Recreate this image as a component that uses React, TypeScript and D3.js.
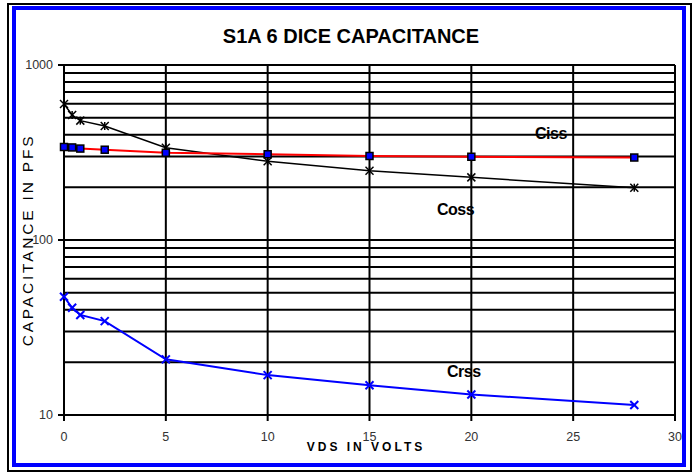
import React from "react";
import * as d3 from "d3";

// Values (VDS in volts, capacitance in pF)
const vds = [0, 0.4, 0.8, 2, 5, 10, 15, 20, 28];
const ciss = [340, 338, 333, 328, 315, 309, 302, 299, 296];
const coss = [599, 518, 481, 448, 337, 282, 249, 228, 199];
const crss = [47.4, 41, 37.3, 34.4, 20.8, 16.9, 14.8, 13.1, 11.4];

const xTicks = [0, 5, 10, 15, 20, 25, 30];
const yMajor = [10, 100, 1000];

const W = 693;
const H = 472;
const FONT = "'Liberation Sans', Arial, sans-serif";

export default function App() {
  const left = 64, right = 675, top = 65, bottom = 415;

  const x = d3.scaleLinear().domain([0, 30]).range([left, right]);
  const y = d3.scaleLog().domain([10, 1000]).range([bottom, top]);

  // log grid: 10..1000 every unit step
  const yGrid: number[] = [];
  for (let dec = 10; dec < 1000; dec *= 10) {
    for (let k = 1; k <= 9; k++) yGrid.push(dec * k);
  }
  yGrid.push(1000);

  const pts = (vals: number[]) => vds.map((v, i) => [v, vals[i]] as [number, number]);
  const line = d3.line<[number, number]>().x(d => x(d[0])).y(d => y(d[1]));

  return (
    <svg
      width={W}
      height={H}
      style={{ position: "fixed", left: 0, top: 0, background: "#fff" }}
      fontFamily={FONT}
    >
      <rect x={0} y={0} width={W} height={H} fill="#fff" />
      {/* frame */}
      <rect x={8} y={4} width={683} height={467} fill="none" stroke="#000" strokeWidth={2} />
      <rect x={14} y={8} width={670} height={457} fill="none" stroke="#0000ff" strokeWidth={4} />

      <text x={351} y={43} textAnchor="middle" fontSize={20} fontWeight="bold" fill="#000">
        S1A 6 DICE CAPACITANCE
      </text>

      {/* horizontal grid */}
      {yGrid.map(v => (
        <line key={"h" + v} x1={left} x2={right} y1={y(v)} y2={y(v)} stroke="#000" strokeWidth={2} />
      ))}
      {/* left ticks at decades */}
      {yMajor.map(v => (
        <g key={"ym" + v}>
          <line x1={left - 6} x2={left} y1={y(v)} y2={y(v)} stroke="#000" strokeWidth={2} />
          <text x={left - 11} y={y(v) + 4} textAnchor="end" fontSize={12.5} fill="#333">
            {v}
          </text>
        </g>
      ))}
      {/* vertical grid + bottom ticks */}
      {xTicks.map(v => (
        <g key={"x" + v}>
          <line x1={x(v)} x2={x(v)} y1={top} y2={bottom + 6} stroke="#000" strokeWidth={2} />
          <text x={x(v)} y={441} textAnchor="middle" fontSize={12.5} fill="#333">
            {v}
          </text>
        </g>
      ))}

      {/* Coss */}
      <path d={line(pts(coss)) || ""} fill="none" stroke="#000" strokeWidth={1.5} />
      {/* Ciss */}
      <path d={line(pts(ciss)) || ""} fill="none" stroke="#ff0000" strokeWidth={2} />
      {/* Crss */}
      <path d={line(pts(crss)) || ""} fill="none" stroke="#0000ff" strokeWidth={2} />

      {pts(coss).map((d, i) => {
        const cx = x(d[0]), cy = y(d[1]), s = 4;
        return (
          <g key={"co" + i} stroke="#000" strokeWidth={1.5}>
            <line x1={cx - s} x2={cx + s} y1={cy - s} y2={cy + s} />
            <line x1={cx - s} x2={cx + s} y1={cy + s} y2={cy - s} />
            <line x1={cx} x2={cx} y1={cy - s} y2={cy + s} />
          </g>
        );
      })}
      {pts(ciss).map((d, i) => (
        <rect
          key={"ci" + i}
          x={x(d[0]) - 3.5}
          y={y(d[1]) - 3.5}
          width={7}
          height={7}
          fill="#0000ff"
          stroke="#000"
          strokeWidth={1.5}
        />
      ))}
      {pts(crss).map((d, i) => {
        const cx = x(d[0]), cy = y(d[1]), s = 4;
        return (
          <g key={"cr" + i} stroke="#0000ff" strokeWidth={2}>
            <line x1={cx - s} x2={cx + s} y1={cy - s} y2={cy + s} />
            <line x1={cx - s} x2={cx + s} y1={cy + s} y2={cy - s} />
          </g>
        );
      })}

      {/* series labels */}
      <text x={535} y={139} fontSize={16} fontWeight="bold" letterSpacing={-0.5} fill="#000">Ciss</text>
      <text x={437} y={215} fontSize={16} fontWeight="bold" letterSpacing={-0.5} fill="#000">Coss</text>
      <text x={447} y={377} fontSize={16} fontWeight="bold" letterSpacing={-0.5} fill="#000">Crss</text>

      {/* axis titles */}
      <text x={366} y={451} textAnchor="middle" fontSize={12} fontWeight="bold" letterSpacing={3} fill="#000">
        VDS IN VOLTS
      </text>
      <text
        transform="translate(33,240) rotate(-90)"
        textAnchor="middle"
        fontSize={15.5}
        letterSpacing={2.8}
        fill="#000"
      >
        CAPACITANCE IN PFS
      </text>
    </svg>
  );
}
